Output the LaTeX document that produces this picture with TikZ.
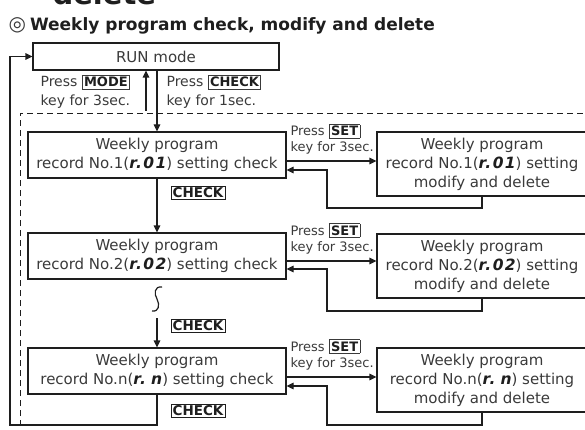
\documentclass[tikz,border=0pt]{standalone}
\usepackage{fontspec}
\setmainfont{DejaVu Sans}
\usetikzlibrary{arrows.meta,calc}
\definecolor{ink}{HTML}{1E1E1E}
\definecolor{txt}{HTML}{3A3A3A}
\newcommand\keybox[1]{{\setlength\fboxsep{1.4pt}\setlength\fboxrule{0.8pt}\fbox{\fontsize{13}{13}\selectfont\bfseries\color{ink}#1}}}
\newcommand\segtxt[1]{{\fontsize{15.5}{19}\selectfont\bfseries\itshape\color{ink}\addfontfeatures{LetterSpace=9}#1}}
\begin{document}
\begin{tikzpicture}[x=1pt,y=-1pt,line width=1.1pt,
  tip/.style={draw=ink,line width=1.1pt,-{Triangle[length=7pt,width=6.5pt]}},
  conn/.style={draw=ink,line width=1.1pt},
  box/.style={draw=ink,line width=1.1pt,text=txt,align=center,inner sep=0pt,
     font=\fontsize{15}{19}\selectfont},
  lbl/.style={text=txt,inner sep=0pt,anchor=base west,font=\fontsize{14}{14}\selectfont},
  slbl/.style={text=txt,inner sep=0pt,anchor=base west,font=\fontsize{13}{13}\selectfont},
  key/.style={draw=ink,line width=0.8pt,inner sep=1.6pt,text=ink,font=\fontsize{13.5}{13.5}\selectfont\bfseries},
  lbox/.style={box,minimum width=258pt,minimum height=46pt},
  rbox/.style={box,minimum width=210pt,minimum height=64pt},
]
\useasboundingbox (0,0) rectangle (585,430);

% title
\node[anchor=base west,inner sep=0pt,text=ink,font=\fontsize{29}{29}\selectfont\bfseries] (del) at (52,4.5) {delete};
\node[anchor=base west,inner sep=0pt,text=ink,font=\fontsize{17}{17}\selectfont\bfseries] (title) at (8,31)
  {{\fontsize{20}{20}\selectfont\mdseries\color{txt}◎}\hspace{4pt}Weekly program check, modify and delete};

% dashed frame
\coordinate (dA) at (20,436);
\coordinate (dB) at (20,113);
\coordinate (dC) at (592,113);
\draw[ink,line width=0.9pt,dash pattern=on 6pt off 4pt] (dA) -- (dB) -- (dC);

% boxes
\node[box,minimum width=246pt,minimum height=27pt] (run) at (156,56.5) {RUN mode};
\node[lbox] (b1) at (157,155) {Weekly program\\record No.1(\segtxt{r.01}) setting check};
\node[lbox] (b2) at (157,256) {Weekly program\\record No.2(\segtxt{r.02}) setting check};
\node[lbox] (bn) at (157,371) {Weekly program\\record No.n(\segtxt{r.\,\,n}) setting check};
\node[rbox] (r1) at (482,164) {Weekly program\\record No.1(\segtxt{r.01}) setting\\modify and delete};
\node[rbox] (r2) at (482,266) {Weekly program\\record No.2(\segtxt{r.02}) setting\\modify and delete};
\node[rbox] (rn) at (482,380) {Weekly program\\record No.n(\segtxt{r.\,\,n}) setting\\modify and delete};

% top labels
\node[lbl] (p1) at (40,87) {Press \keybox{MODE}};
\node[lbl] (k1) at (40,106) {key for 3sec.};
\node[lbl] (p2) at (166,87) {Press \keybox{CHECK}};
\node[lbl] (k2) at (166,106) {key for 1sec.};

% run <-> b1
\coordinate (up0) at (146,111);
\draw[tip] (up0) -- (up0 |- run.south);
\draw[tip] (run.south -| b1.north) -- (b1.north);

% vertical chain
\draw[tip] (b1.south) -- (b2.north);
\node[key] (c1) at (198,193) {CHECK};
\coordinate (sq0) at (162,287);
\coordinate (sq1) at (152,311);
\draw[conn,line width=1.2pt] (sq0) .. controls (154,286) and (154,294) .. (157,299)
   .. controls (160,305) and (159,312) .. (sq1);
\coordinate (ch2) at (157,318);
\draw[tip] (ch2) -- (bn.north);
\node[key] (c2) at (198,326) {CHECK};
\node[key] (c3) at (198,411) {CHECK};
\coordinate (fb) at (10,425);
\draw[tip] (bn.south) |- (fb) |- (run.west);

% row 1
\node[slbl] (s1) at (290,136) {Press \keybox{SET}};
\node[slbl] (t1) at (290,152) {key for 3sec.};
\draw[tip] ([yshift=-6pt]b1.east) -- ([yshift=-6pt]b1.east -| r1.west);
\coordinate (ret1) at (327,208);
\draw[tip] (r1.south) |- (ret1) |- ([yshift=-15pt]b1.east);

% row 2
\node[slbl] (s2) at (290,235) {Press \keybox{SET}};
\node[slbl] (t2) at (290,251) {key for 3sec.};
\draw[tip] ([yshift=-5pt]b2.east) -- ([yshift=-5pt]b2.east -| r2.west);
\coordinate (ret2) at (327,311);
\draw[tip] (r2.south) |- (ret2) |- ([yshift=-13pt]b2.east);

% row n
\node[slbl] (sn) at (290,351) {Press \keybox{SET}};
\node[slbl] (tn) at (290,367) {key for 3sec.};
\draw[tip] ([yshift=-6pt]bn.east) -- ([yshift=-6pt]bn.east -| rn.west);
\coordinate (retn) at (327,425);
\draw[tip] (rn.south) |- (retn) |- ([yshift=-15pt]bn.east);
\end{tikzpicture}
\end{document}
